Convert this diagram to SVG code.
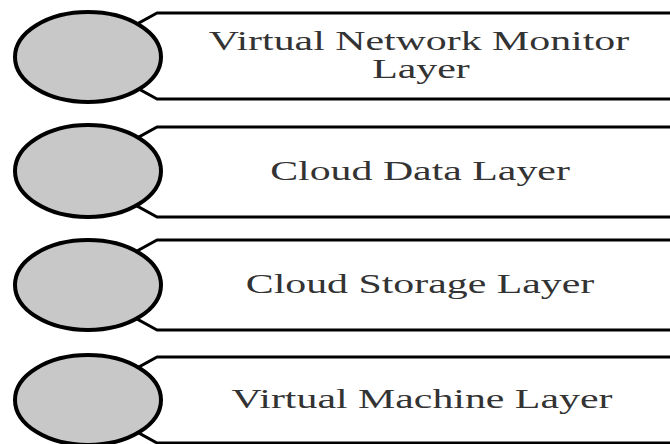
<svg xmlns="http://www.w3.org/2000/svg" width="670" height="444" viewBox="0 0 670 444">
<style>
.box{fill:#ffffff;stroke:#000000;stroke-width:3;stroke-linejoin:round}
.dot{fill:#c8c8c8;stroke:#000000;stroke-width:4}
.lbl{font-family:"Liberation Serif","Times New Roman",serif;font-size:27px;fill:#333333;text-anchor:middle}
</style>
<rect x="0" y="0" width="670" height="444" fill="#ffffff"/>
<g id="node-vnm">
<path class="box" d="M 675 13 H 157 L 125 30.6 V 81.4 L 157 99 H 675"/>
<ellipse class="dot" cx="88" cy="57" rx="73" ry="45"/>
<text class="lbl" transform="translate(419,50) scale(1.55,1)">Virtual Network Monitor</text>
<text class="lbl" transform="translate(421,78) scale(1.55,1)">Layer</text>
</g>
<g id="node-cdl">
<path class="box" d="M 675 127 H 157 L 125 144.6 V 199.4 L 157 217 H 675"/>
<ellipse class="dot" cx="88" cy="171" rx="73" ry="46"/>
<text class="lbl" transform="translate(420,180) scale(1.55,1)">Cloud Data Layer</text>
</g>
<g id="node-csl">
<path class="box" d="M 675 240 H 157 L 125 257.6 V 312.4 L 157 330 H 675"/>
<ellipse class="dot" cx="88" cy="285" rx="73" ry="45"/>
<text class="lbl" transform="translate(420,293) scale(1.55,1)">Cloud Storage Layer</text>
</g>
<g id="node-vml">
<path class="box" d="M 675 357 H 157 L 125 374.6 V 425.4 L 157 443 H 675"/>
<ellipse class="dot" cx="88" cy="400" rx="73" ry="45"/>
<text class="lbl" transform="translate(422,408) scale(1.55,1)">Virtual Machine Layer</text>
</g>
</svg>
